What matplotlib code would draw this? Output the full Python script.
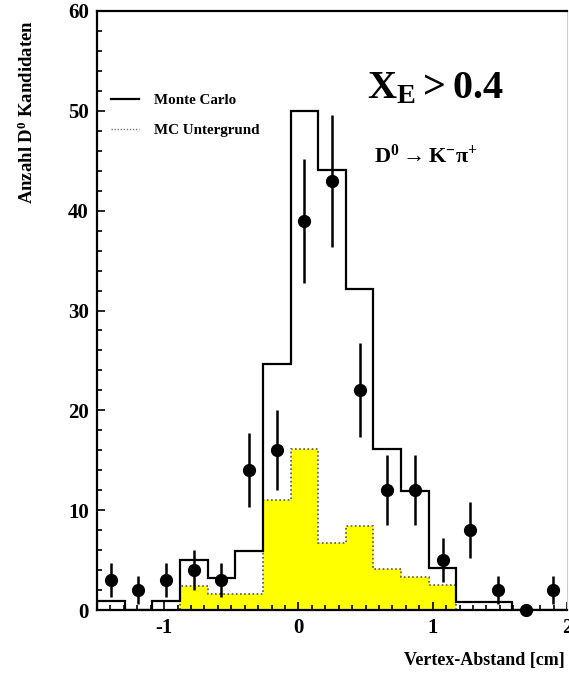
import numpy as np
import matplotlib
matplotlib.use("Agg")
import matplotlib.pyplot as plt
from matplotlib.lines import Line2D
from matplotlib.ticker import MultipleLocator

plt.rcParams['font.family'] = 'Liberation Serif'
plt.rcParams['font.weight'] = 'bold'
plt.rcParams['mathtext.fontset'] = 'custom'
plt.rcParams['mathtext.rm'] = 'Liberation Serif:bold'
plt.rcParams['mathtext.it'] = 'Liberation Serif:bold'
plt.rcParams['mathtext.bf'] = 'Liberation Serif:bold'

# 17 Bins von -1.5 bis 2 cm
x_min, x_max, n_bins = -1.5, 2.0, 17

# Daten (Anzahl D0 Kandidaten pro Bin) mit Fehlern
daten = [3, 2, 3, 4, 3, 14, 16, 39, 43, 22, 12, 12, 5, 8, 2, 0, 2]
fehler = [1.7, 1.4, 1.7, 2.0, 1.7, 3.7, 4.0, 6.2, 6.6, 4.7, 3.5, 3.5, 2.2, 2.8, 1.4, 0.0, 1.4]

# Monte Carlo gesamt und MC Untergrund
monte_carlo = [0.9, 0, 0.9, 5.0, 3.2, 5.9, 24.6, 50.0, 44.1, 32.2, 16.1, 11.9, 4.2, 0.8, 0.8, 0, 0]
mc_untergrund = [0, 0, 0, 2.4, 1.6, 1.6, 11.0, 16.1, 6.7, 8.4, 4.1, 3.3, 2.5, 0, 0, 0, 0]

kanten = np.linspace(x_min, x_max, n_bins + 1)
mitten = 0.5 * (kanten[:-1] + kanten[1:])

fig = plt.figure(figsize=(5.69, 6.73), dpi=100)
ax = fig.add_axes([97 / 569, 63 / 673, 470 / 569, 599 / 673])

# Untergrund gelb gefuellt mit gepunktetem Rand
ax.stairs(mc_untergrund, kanten, fill=True, color='#ffff00', zorder=1)
ax.stairs(mc_untergrund, kanten, color='#555555', linestyle=(0, (1, 1.5)), linewidth=1.2, zorder=2)

# Monte Carlo Histogramm
ax.stairs(monte_carlo, kanten, color='black', linewidth=1.6, zorder=3)

# Datenpunkte
ax.errorbar(mitten, daten, yerr=fehler, fmt='o', color='black', ms=8.5,
            elinewidth=1.8, capsize=0, zorder=4, clip_on=False)

ax.set_xlim(x_min, x_max)
ax.set_ylim(0, 60)
ax.xaxis.set_major_locator(MultipleLocator(1))
ax.xaxis.set_minor_locator(MultipleLocator(0.1))
ax.yaxis.set_major_locator(MultipleLocator(10))
ax.yaxis.set_minor_locator(MultipleLocator(2))
ax.tick_params(which='both', direction='in', top=False, right=False, width=1.2, labelsize=15)
ax.tick_params(which='major', length=6, pad=6)
ax.tick_params(which='minor', length=3.5)
ax.set_xticks([-1, 0, 1, 2])
ax.set_xticklabels(['-1', '0', '1', '2'])

for side in ['left', 'top', 'bottom']:
    ax.spines[side].set_linewidth(1.6)
ax.spines['right'].set_color('#cccccc')
ax.spines['right'].set_linewidth(0.8)

fig.text(27 / 569, 1 - 112 / 673, r'Anzahl D$^0$ Kandidaten', rotation=90,
         ha='center', va='center', fontsize=13.5)
fig.text(565 / 569, 1 - 660 / 673, 'Vertex-Abstand [cm]', ha='right', va='center', fontsize=13)

ax.text(0.575, 0.87, r'$\mathrm{X_E > 0.4}$', transform=ax.transAxes, fontsize=29,
        ha='left', va='center')
ax.text(0.59, 0.757, r'$\mathrm{D^0 \rightarrow K^{-}\pi^{+}}$', transform=ax.transAxes,
        fontsize=16, ha='left', va='center')

handles = [Line2D([], [], color='black', linewidth=1.6),
           Line2D([], [], color='#777777', linestyle=(0, (1, 1.2)), linewidth=1.0)]
ax.legend(handles, ['Monte Carlo', 'MC Untergrund'], loc='upper left',
          bbox_to_anchor=(0.0, 0.885), frameon=False, fontsize=10.8,
          handlelength=1.9, handletextpad=1.0, labelspacing=1.1)

fig.savefig('out.png', dpi=100)
